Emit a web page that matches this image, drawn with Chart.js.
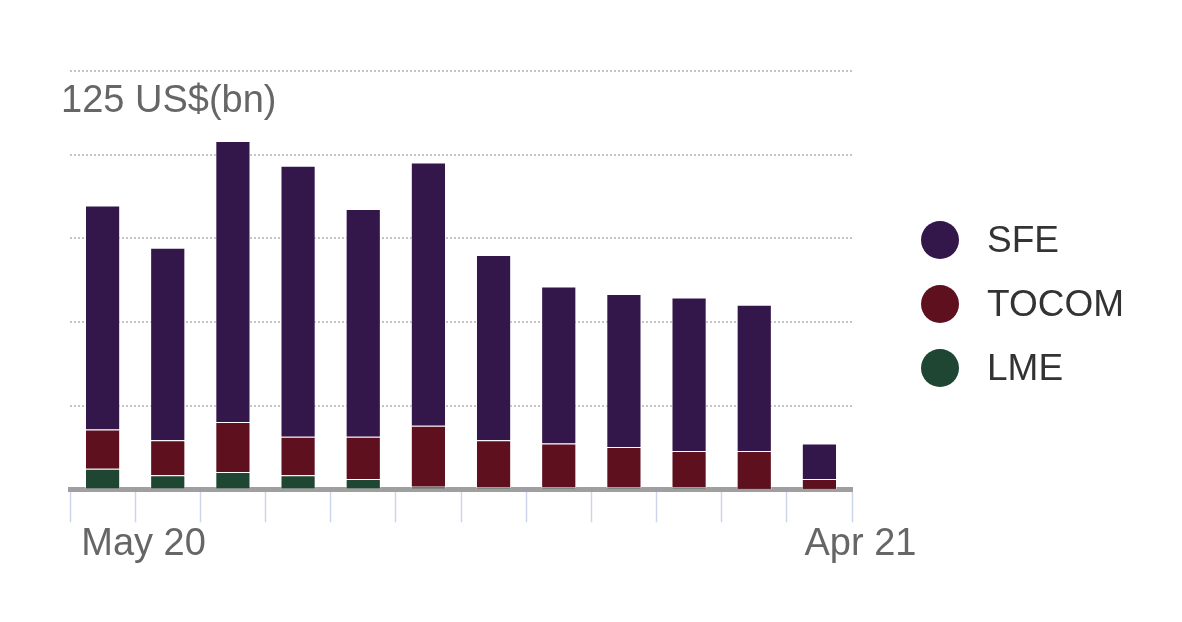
<!DOCTYPE html>
<html>
<head>
<meta charset="utf-8">
<script src="https://cdn.jsdelivr.net/npm/chart.js@4"></script>
<style>
  html, body { margin: 0; padding: 0; background: #fff; }
  #wrap { position: relative; width: 1182px; height: 622px; }
  #legend { position: absolute; left: 921px; top: 208px; font-family: "Liberation Sans", Arial, sans-serif; font-size: 37px; color: #333; }
  #legend .row { display: flex; align-items: center; height: 64px; }
  #legend .dot { width: 38px; height: 38px; border-radius: 50%; margin-right: 28px; }
</style>
</head>
<body>
<div id="wrap">
  <canvas id="tradeChart" width="1182" height="622"></canvas>
  <div id="legend"></div>
</div>
<script>
const months = ['May 20', 'Jun 20', 'Jul 20', 'Aug 20', 'Sep 20', 'Oct 20',
                'Nov 20', 'Dec 20', 'Jan 21', 'Feb 21', 'Mar 21', 'Apr 21'];
const shownLabels = ['May 20', 'Apr 21'];
const unitLabel = '125 US$(bn)';

const sfe   = [66.9, 57.5, 84.0, 81.0, 68.1, 78.7, 55.3, 46.9, 45.7, 45.8, 43.7, 10.6];
const tocom = [11.7, 10.5, 14.9, 11.5, 12.6, 18.2, 14.0, 13.0, 12.0, 10.8, 11.4, 3.0];
const lme   = [6.2, 4.2, 5.2, 4.2, 3.1, 0.8, 0.7, 0.7, 0.7, 0.7, 0.1, 0.1];

const font = '"Liberation Sans", Arial, sans-serif';

// legend order as in the picture: top of stack first
const series = [
    { label: 'SFE', data: sfe, color: '#33164a' },
    { label: 'TOCOM', data: tocom, color: '#5e101e' },
    { label: 'LME', data: lme, color: '#1f4533' }
];

const legend = document.getElementById('legend');
series.forEach(s => {
    const row = document.createElement('div');
    row.className = 'row';
    row.innerHTML = '<span class="dot" style="background:' + s.color + '"></span><span>' + s.label + '</span>';
    legend.appendChild(row);
});

const ctx = document.getElementById('tradeChart').getContext('2d');

const tradeChart = new Chart(ctx, {
    type: 'bar',
    data: {
        labels: months,
        // chart.js stacks the first dataset at the bottom
        datasets: series.slice().reverse().map(s => ({
            label: s.label,
            data: s.data,
            backgroundColor: s.color,
            borderColor: 'rgba(255,255,255,0.5)',
            borderWidth: 1,
            barPercentage: 0.54,
            categoryPercentage: 1
        }))
    },
    options: {
        responsive: false,
        animation: false,
        layout: {
            padding: { left: 70, right: 330, top: 71, bottom: 56 }
        },
        scales: {
            x: {
                stacked: true,
                grid: {
                    offset: true,
                    drawOnChartArea: false,
                    drawTicks: true,
                    tickLength: 33,
                    tickColor: '#ccd6eb',
                    tickWidth: 1.5
                },
                border: { display: true, color: '#9f9f9f', width: 5 },
                ticks: {
                    autoSkip: false,
                    maxRotation: 0,
                    labelOffset: 41,
                    padding: -1,
                    color: '#666',
                    font: { family: font, size: 38 },
                    callback: function (value, index) {
                        const lab = months[index];
                        return shownLabels.includes(lab) ? lab : '';
                    }
                }
            },
            y: {
                stacked: true,
                min: 0,
                max: 125,
                border: { display: false, dash: [2, 2] },
                grid: {
                    drawTicks: false,
                    color: '#c4c4c4',
                    lineWidth: 2
                },
                ticks: {
                    stepSize: 25,
                    mirror: true,
                    padding: -3,
                    labelOffset: 31,
                    color: '#666',
                    font: { family: font, size: 38 },
                    callback: function (value) {
                        return value === 125 ? unitLabel : '';
                    }
                }
            }
        },
        plugins: {
            legend: { display: false },
            tooltip: { enabled: false }
        }
    }
});
</script>
</body>
</html>
